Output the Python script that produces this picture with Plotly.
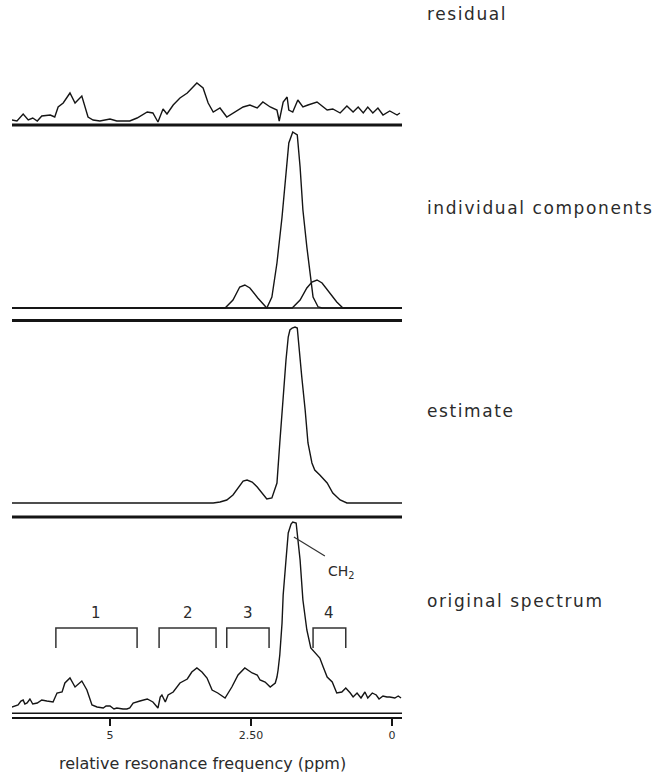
import plotly.graph_objects as go

# ---------------- data (ppm / arbitrary intensity) ----------------
orig_ppm = [6.74, 6.68, 6.63, 6.58, 6.54, 6.51, 6.47, 6.42, 6.37, 6.29,
            6.21, 6.12, 6.01, 5.94, 5.85, 5.80, 5.71, 5.62, 5.55, 5.50,
            5.41, 5.32, 5.23, 5.12, 5.07, 5.00, 4.93, 4.88, 4.77, 4.70,
            4.65, 4.59, 4.47, 4.34, 4.24, 4.15, 4.11, 4.08, 4.02, 3.97,
            3.88, 3.76, 3.63, 3.55, 3.46, 3.37, 3.28, 3.19, 3.09, 2.96,
            2.84, 2.73, 2.61, 2.48, 2.39, 2.34, 2.25, 2.16, 2.07, 2.04,
            2.02, 1.99, 1.95, 1.93, 1.88, 1.84, 1.79, 1.76, 1.70, 1.67,
            1.63, 1.58, 1.51, 1.44, 1.37, 1.28, 1.22, 1.15, 1.06, 0.98,
            0.89, 0.82, 0.74, 0.69, 0.62, 0.55, 0.48, 0.43, 0.35, 0.28,
            0.23, 0.16, 0.09, 0.04, -0.05, -0.11, -0.16]
orig_int = [6, 7, 8, 12, 13, 9, 10, 14, 9, 10,
            13, 12, 11, 20, 21, 30, 35, 26, 30, 32,
            23, 8, 6, 5, 7, 7, 4, 5, 4, 4,
            5, 10, 12, 14, 11, 5, 16, 18, 11, 18,
            21, 30, 34, 41, 45, 41, 35, 23, 20, 15,
            26, 38, 45, 40, 38, 33, 31, 26, 30, 36,
            43, 58, 90, 118, 153, 180, 189, 191, 190, 176,
            153, 113, 83, 65, 61, 55, 46, 36, 31, 20,
            21, 25, 20, 16, 20, 15, 21, 15, 20, 18,
            14, 17, 16, 16, 15, 17, 15]

est_ppm = [6.74, 5.18, 3.40, 3.17, 3.05, 2.93, 2.82, 2.73, 2.64, 2.57,
           2.48, 2.39, 2.30, 2.22, 2.13, 2.04, 1.99, 1.93, 1.88, 1.84,
           1.81, 1.77, 1.72, 1.68, 1.65, 1.60, 1.54, 1.49, 1.42, 1.37,
           1.28, 1.15, 1.05, 0.92, 0.80, -0.18]
est_int = [0, 0, 0, 0, 1, 3, 8, 15, 22, 23,
           21, 16, 9, 4, 5, 20, 60, 110, 143, 166,
           173, 175, 176, 175, 153, 126, 93, 60, 40, 33,
           28, 20, 10, 3, 0, 0]

comp1_ppm = [6.74, 2.96, 2.82, 2.70, 2.61, 2.52, 2.38, 2.22, -0.18]
comp1_int = [0, 0, 8, 21, 23, 20, 10, 0, 0]
comp2_ppm = [6.74, 2.22, 2.13, 2.04, 1.95, 1.88, 1.83, 1.76, 1.68, 1.63,
             1.58, 1.51, 1.45, 1.40, 1.31, 1.24, -0.18]
comp2_int = [0, 0, 11, 45, 91, 138, 165, 176, 173, 141,
             98, 61, 31, 11, 1, 0, 0]
comp3_ppm = [6.74, 1.77, 1.63, 1.51, 1.42, 1.33, 1.24, 1.10, 0.98, 0.87, -0.18]
comp3_int = [0, 0, 8, 20, 26, 28, 25, 15, 6, 0, 0]

res_ppm = [6.74, 6.65, 6.54, 6.45, 6.37, 6.29, 6.21, 6.06, 5.98, 5.92,
           5.83, 5.71, 5.62, 5.50, 5.39, 5.30, 5.18, 5.00, 4.88, 4.65,
           4.52, 4.34, 4.24, 4.15, 4.06, 3.99, 3.88, 3.76, 3.63, 3.46,
           3.35, 3.26, 3.17, 3.05, 2.93, 2.82, 2.64, 2.52, 2.39, 2.29,
           2.16, 2.04, 2.00, 1.93, 1.86, 1.83, 1.76, 1.67, 1.58, 1.49,
           1.33, 1.15, 1.05, 0.92, 0.80, 0.69, 0.60, 0.51, 0.43, 0.34,
           0.25, 0.16, 0.04, -0.09, -0.14]
res_int = [5, 4, 11, 5, 7, 4, 9, 10, 8, 18,
           22, 32, 22, 29, 8, 5, 4, 6, 4, 4,
           7, 13, 12, 3, 16, 11, 20, 27, 32, 42,
           37, 22, 13, 17, 8, 12, 18, 20, 17, 23,
           18, 15, 4, 23, 28, 15, 13, 25, 18, 20,
           23, 15, 16, 12, 19, 13, 18, 12, 18, 12,
           17, 10, 14, 10, 12]

region_labels = ["1", "2", "3", "4"]
region_start = [5.96, 4.13, 2.93, 1.40]
region_end = [4.52, 3.12, 2.18, 0.82]

peak_label = "CH<sub>2</sub>"
peak_ppm = 1.74
peak_int = 176

tick_vals = [5, 2.5, 0]
tick_text = ["5", "2.50", "0"]

panel_names = ["residual", "individual components", "estimate", "original spectrum"]

# ---------------- figure ----------------
H = 783
W = 655
FONT = "DejaVu Sans"
INK = "#151515"
TXT = "#2b2b2b"


def py(px):
    return 1 - px / H


line = dict(color=INK, width=1.4)

fig = go.Figure()
fig.add_trace(go.Scatter(x=orig_ppm, y=orig_int, mode="lines", line=line, yaxis="y", hoverinfo="skip"))
fig.add_trace(go.Scatter(x=est_ppm, y=est_int, mode="lines", line=line, yaxis="y2", hoverinfo="skip"))
for cx, cy in [(comp1_ppm, comp1_int), (comp2_ppm, comp2_int), (comp3_ppm, comp3_int)]:
    fig.add_trace(go.Scatter(x=cx, y=cy, mode="lines", line=line, yaxis="y3", hoverinfo="skip"))
fig.add_trace(go.Scatter(x=res_ppm, y=res_int, mode="lines", line=line, yaxis="y4", hoverinfo="skip"))

shapes = []
# thick separators between panels
for px in [125, 320.5, 517]:
    shapes.append(dict(type="line", xref="paper", yref="paper", x0=0, x1=1, y0=py(px), y1=py(px),
                       line=dict(color=INK, width=3)))
# upper line of the double axis line
shapes.append(dict(type="line", xref="paper", yref="paper", x0=0, x1=1, y0=py(713.3), y1=py(713.3),
                   line=dict(color=INK, width=1.5)))

annotations = []
# region brackets
for lab, s, e in zip(region_labels, region_start, region_end):
    shapes.append(dict(type="path", xref="x", yref="y",
                       path=f"M {s},65 L {s},85 L {e},85 L {e},65",
                       line=dict(color="#333333", width=1.5)))
    annotations.append(dict(x=(s + e) / 2, y=100, xref="x", yref="y", text=lab, showarrow=False,
                            font=dict(family=FONT, size=15, color=TXT), xanchor="center", yanchor="middle"))

# CH2 pointer
shapes.append(dict(type="line", xref="x", yref="y", x0=peak_ppm, y0=peak_int, x1=1.19, y1=157,
                   line=dict(color="#333333", width=1.2)))
annotations.append(dict(x=0.90, y=141, xref="x", yref="y", text=peak_label, showarrow=False,
                        font=dict(family=FONT, size=14, color=TXT), xanchor="center", yanchor="middle"))

# panel labels on the right
label_px = [14, 208, 411, 601]
for name, px in zip(panel_names, label_px):
    annotations.append(dict(x=(425 - 12) / 390, y=py(px), xref="paper", yref="paper",
                            text=f"<span style='letter-spacing:1.6px'>{name}</span>",
                            showarrow=False, xanchor="left", yanchor="middle",
                            font=dict(family=FONT, size=17, color=TXT)))

# axis title
annotations.append(dict(x=(202 - 12) / 390, y=py(763), xref="paper", yref="paper",
                        text="relative resonance frequency (ppm)", showarrow=False,
                        xanchor="center", yanchor="middle",
                        font=dict(family=FONT, size=16, color=TXT)))

fig.update_layout(
    width=W, height=H,
    margin=dict(l=12, r=253, t=0, b=0, pad=0),
    paper_bgcolor="white", plot_bgcolor="white",
    showlegend=False,
    shapes=shapes, annotations=annotations,
    xaxis=dict(range=[6.738, -0.177], anchor="y", showgrid=False, zeroline=False,
               showline=True, linecolor=INK, linewidth=1.5,
               ticks="outside", ticklen=7, tickwidth=1.5, tickcolor=INK,
               tickvals=tick_vals, ticktext=tick_text,
               tickfont=dict(family=FONT, size=11, color=TXT), automargin=False),
    yaxis=dict(domain=[py(717.3), py(517)], range=[-4.3, 196], visible=False),
    yaxis2=dict(domain=[py(517), py(320.5)], range=[-14, 182.5], visible=False),
    yaxis3=dict(domain=[py(320.5), py(125)], range=[-12.5, 183], visible=False),
    yaxis4=dict(domain=[py(125), 1], range=[0, 125], visible=False),
)

fig.write_html("out.html")
